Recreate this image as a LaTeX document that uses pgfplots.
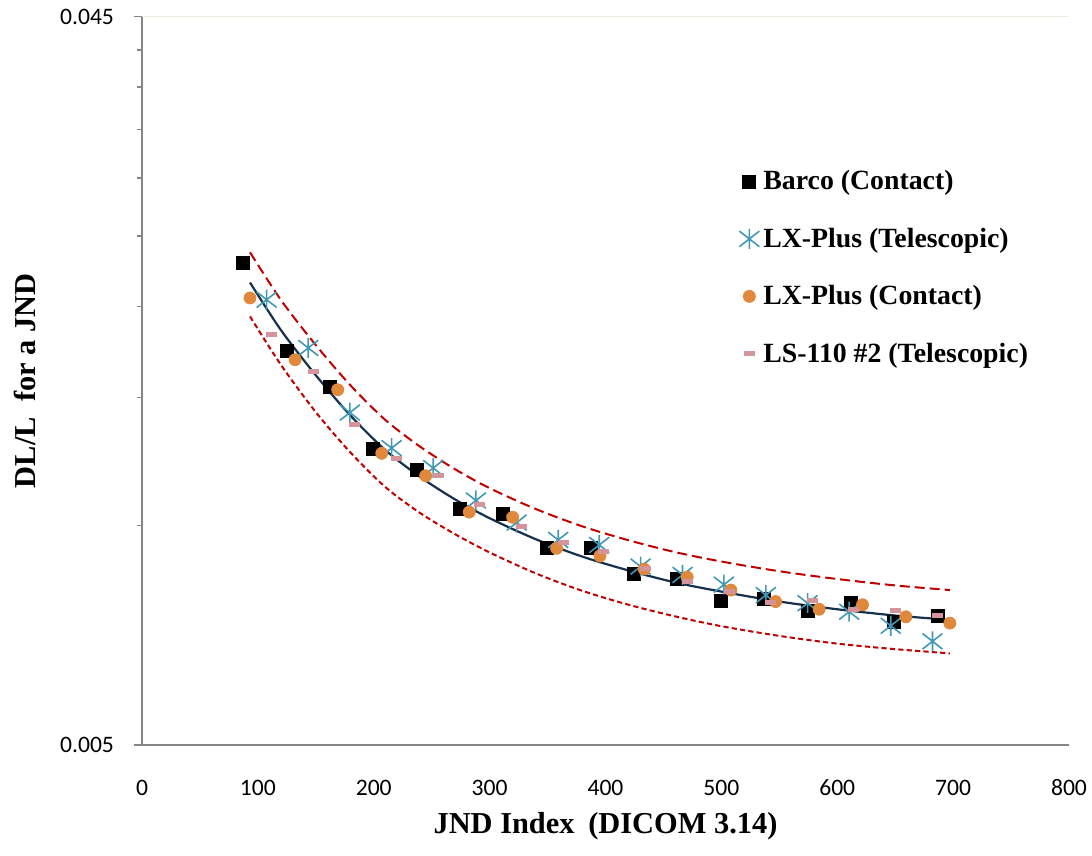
\documentclass[border=0pt]{standalone}
\usepackage{fontspec}
\usepackage{pgfplots}
\pgfplotsset{compat=1.18}
\newfontfamily\calibri{Carlito}
\newfontfamily\timesb{Liberation Serif}
\definecolor{axgray}{HTML}{868686}
\definecolor{gridc}{HTML}{EEECE1}
\definecolor{cTeal}{HTML}{4198B5}
\definecolor{cOrange}{HTML}{E0893C}
\definecolor{cPink}{HTML}{D4949A}
\definecolor{cNavy}{HTML}{17304D}
\definecolor{cRed}{HTML}{C00000}
\pgfdeclareplotmark{xstar}{%
  \pgfpathmoveto{\pgfqpoint{0pt}{\pgfplotmarksize}}%
  \pgfpathlineto{\pgfqpoint{0pt}{-\pgfplotmarksize}}%
  \pgfpathmoveto{\pgfqpoint{-\pgfplotmarksize}{0.78\pgfplotmarksize}}%
  \pgfpathlineto{\pgfqpoint{\pgfplotmarksize}{-0.78\pgfplotmarksize}}%
  \pgfpathmoveto{\pgfqpoint{-\pgfplotmarksize}{-0.78\pgfplotmarksize}}%
  \pgfpathlineto{\pgfqpoint{\pgfplotmarksize}{0.78\pgfplotmarksize}}%
  \pgfusepathqstroke}

\pgfplotstableread{
x y
87.4 0.02294
124.9 0.01740
162.2 0.01550
199.6 0.01275
237.0 0.01193
274.4 0.01054
311.7 0.01038
349.2 0.00933
387.1 0.00931
424.5 0.00858
461.9 0.00845
499.3 0.00789
536.9 0.00793
574.4 0.00764
611.7 0.00783
649.1 0.00739
686.5 0.00752
}\tabBarco
\pgfplotstableread{
x y
107.6 0.02043
143.5 0.01754
179.4 0.01430
215.4 0.01278
251.3 0.01200
288.2 0.01083
323.3 0.01010
359.2 0.00956
394.6 0.00941
430.3 0.00879
466.5 0.00856
502.2 0.00830
538.4 0.00803
574.4 0.00783
610.3 0.00762
646.2 0.00729
682.2 0.00694
}\tabLxTele
\pgfplotstableread{
x y
93.2 0.02054
132.1 0.01690
168.9 0.01537
206.9 0.01257
244.8 0.01171
282.4 0.01044
319.9 0.01027
357.8 0.00931
395.2 0.00909
433.4 0.00872
470.5 0.00850
508.2 0.00816
546.8 0.00787
584.4 0.00768
621.8 0.00779
659.2 0.00750
697.2 0.00735
}\tabLxCont
\pgfplotstableread{
x y
111.9 0.01829
147.8 0.01628
183.8 0.01379
219.7 0.01238
255.6 0.01171
291.6 0.01068
327.6 0.00999
363.6 0.00949
398.7 0.00922
434.6 0.00873
470.5 0.00838
506.8 0.00812
542.5 0.00784
578.4 0.00789
614.4 0.00768
650.3 0.00766
686.2 0.00752
}\tabLsTele
\pgfplotstableread{
x y
93.2 0.02157
120 0.01855
150 0.01609
180 0.01416
210 0.01270
240 0.01167
270 0.01087
300 0.01024
340 0.00958
380 0.00907
420 0.00868
460 0.00836
500 0.00812
550 0.00787
600 0.00768
650 0.00753
691.4 0.00744
}\tabFit
\pgfplotstableread{
x y
93.2 0.02373
120 0.02040
150 0.01770
180 0.01558
210 0.01397
240 0.01284
270 0.01196
300 0.01126
340 0.01054
380 0.00998
420 0.00955
460 0.00920
500 0.00893
550 0.00866
600 0.00845
650 0.00828
697.2 0.00816
}\tabUp
\pgfplotstableread{
x y
93.2 0.01938
120 0.01662
150 0.01432
180 0.01260
210 0.01130
240 0.01041
270 0.00974
300 0.00919
340 0.00860
380 0.00814
420 0.00779
460 0.00751
500 0.00728
550 0.00706
600 0.00689
650 0.00677
697.2 0.00668
}\tabLo

\begin{document}
\begin{tikzpicture}
\path[use as bounding box] (-71pt,-55.5pt) rectangle (475pt,372.5pt);
\begin{axis}[
  at={(0,0)}, anchor=south west,
  scale only axis, width=463.5pt, height=364.25pt,
  xmin=0, xmax=800, ymode=log, ymin=0.005, ymax=0.05,
  axis x line=bottom, axis y line=left,
  axis line style={draw=axgray, line width=0.7pt, -},
  xtick={0,100,...,800},
  major x tick style={draw=none},
  ytick={0.005,0.05}, yticklabels={0.005,0.045},
  minor ytick={0.01,0.015,0.02,0.025,0.03,0.035,0.04,0.045},
  tick align=outside,
  major tick length=4pt, minor tick length=2.5pt,
  y tick style={draw=axgray, line width=0.7pt},
  ymajorgrids, major grid style={draw=gridc, line width=0.8pt},
  /pgf/number format/assume math mode=true,
  ticklabel style={font=\calibri\fontsize{11.8}{13}\selectfont, text=black},
  xticklabel style={anchor=center, yshift=-17.5pt},
  yticklabel style={anchor=east, xshift=-6.5pt},
  xlabel={JND Index\hspace{0.45em}(DICOM 3.14)},
  ylabel={DL/L\hspace{0.5em}for a JND},
  label style={font=\timesb\bfseries\fontsize{15.2}{18}\selectfont},
  xlabel style={at={(axis description cs:0.5,-0.112)}, anchor=center},
  ylabel style={at={(axis description cs:-0.126,0.5)}, anchor=center},
  legend image code/.code={\draw[mark repeat=2,mark phase=2,#1] plot coordinates {(0cm,0cm)(0.2cm,0cm)(0.54cm,0cm)};},
  legend style={at={(0.644,0.795)}, anchor=north west, draw=none, fill=none,
    font=\timesb\bfseries\fontsize{13.9}{16}\selectfont, row sep=13.6pt, inner sep=0pt},
  legend cell align=left,
  clip=false,
]
\addplot[cRed, line width=1pt, dash pattern=on 5pt off 2.5pt, smooth, forget plot] table[x=x,y=y]{\tabUp};
\addplot[cRed, line width=1pt, dash pattern=on 2.6pt off 1.6pt, smooth, forget plot] table[x=x,y=y]{\tabLo};
\addplot[cNavy, line width=1.1pt, smooth, forget plot] table[x=x,y=y]{\tabFit};
\addplot[only marks, mark=square*, mark size=3.25pt, mark options={fill=black, draw=black}] table[x=x,y=y]{\tabBarco};
\addlegendentry{Barco (Contact)}
\addplot[only marks, mark=xstar, mark size=5pt, mark options={draw=cTeal, line width=0.8pt}] table[x=x,y=y]{\tabLxTele};
\addlegendentry{LX-Plus (Telescopic)}
\addplot[only marks, mark=*, mark size=3pt, mark options={fill=cOrange, draw=cOrange}] table[x=x,y=y]{\tabLxCont};
\addlegendentry{LX-Plus (Contact)}
\addplot[only marks, mark=-, mark size=2.75pt, mark options={draw=cPink, line width=2.5pt}] table[x=x,y=y]{\tabLsTele};
\addlegendentry{LS-110 \#2 (Telescopic)}
\end{axis}
\end{tikzpicture}
\end{document}
